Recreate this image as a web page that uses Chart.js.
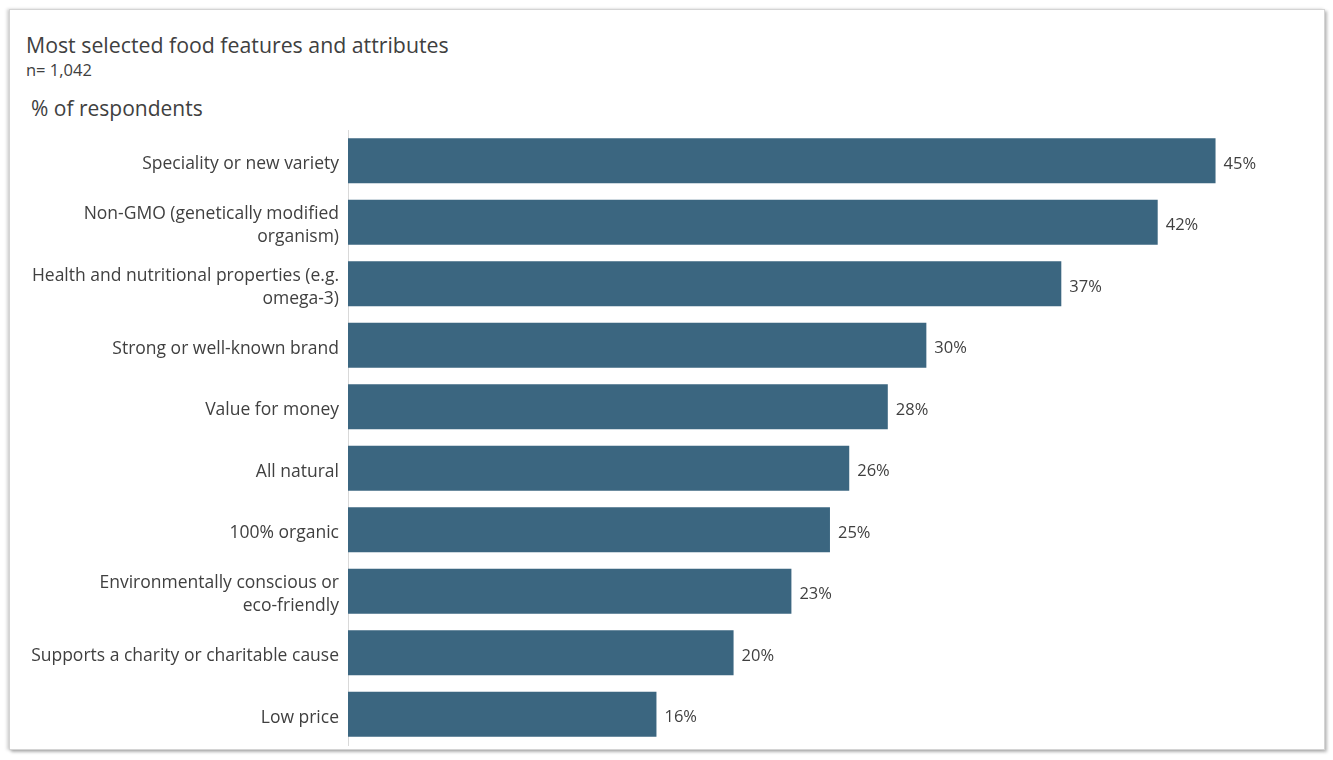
<!DOCTYPE html>
<html>
<head>
<meta charset="utf-8">
<script src="https://cdn.jsdelivr.net/npm/chart.js@4/dist/chart.umd.min.js"></script>
<style>
  html, body { margin: 0; padding: 0; background: #fff; }
  body { width: 1333px; height: 760px; position: relative; overflow: hidden; font-family: 'Open Sans', sans-serif; color: #404040; }
  .panel {
    position: absolute; left: 9px; top: 9px; width: 1314px; height: 739px;
    background: #fff; border: 1px solid #d4d4d4;
    box-shadow: 2px 2px 3px rgba(0,0,0,0.28), -2px 0 3px rgba(0,0,0,0.18);
  }
  .title { position: absolute; left: 26px; top: 31px; font-size: 21.3px; color: #404040; white-space: nowrap; line-height: 1.3; }
  .sub { position: absolute; left: 26px; top: 59px; font-size: 16.5px; color: #404040; line-height: 1.3; }
  .unit { position: absolute; left: 31px; top: 95px; font-size: 21px; color: #404040; line-height: 1.3; }
  #chart { position: absolute; left: 0; top: 0; }
</style>
</head>
<body>
<div class="panel"></div>
<div class="title">Most selected food features and attributes</div>
<div class="sub">n= 1,042</div>
<div class="unit">% of respondents</div>
<canvas id="chart" width="1333" height="760"></canvas>
<script>
// categories, top to bottom
const features = [
  'Speciality or new variety',
  ['Non-GMO (genetically modified', 'organism)'],
  ['Health and nutritional properties (e.g.', 'omega-3)'],
  'Strong or well-known brand',
  'Value for money',
  'All natural',
  '100% organic',
  ['Environmentally conscious or', 'eco-friendly'],
  'Supports a charity or charitable cause',
  'Low price',
];
const sharePct = [45, 42, 37, 30, 28, 26, 25, 23, 20, 16];

const BAR = '#3b6680';
const TXT = '#404040';
const LINE_H = 23;
const TEXT_DROP = 3.5; // text sits a touch below the bar centre

// category names at each tick, right-aligned against the axis,
// plus "NN%" just past the end of each bar
const barText = {
  id: 'barText',
  afterDatasetsDraw(chart) {
    const { ctx } = chart;
    const yScale = chart.scales.y;
    const meta = chart.getDatasetMeta(0);
    ctx.save();
    ctx.fillStyle = TXT;
    ctx.textBaseline = 'middle';

    ctx.font = "17.5px 'Open Sans'";
    ctx.textAlign = 'right';
    features.forEach((lab, i) => {
      const lines = Array.isArray(lab) ? lab : [lab];
      const cy = yScale.getPixelForTick(i) + TEXT_DROP;
      const y0 = cy - (lines.length - 1) * LINE_H / 2;
      lines.forEach((t, k) => ctx.fillText(t, yScale.right - 9, y0 + k * LINE_H));
    });

    ctx.font = "16.5px 'Open Sans'";
    ctx.textAlign = 'left';
    meta.data.forEach((bar, i) => {
      ctx.fillText(sharePct[i] + '%', bar.x + 8, bar.y + TEXT_DROP);
    });
    ctx.restore();
  },
};

new Chart(document.getElementById('chart'), {
  type: 'bar',
  data: {
    labels: features,
    datasets: [{
      data: sharePct,
      backgroundColor: BAR,
      borderWidth: 0,
      barPercentage: 0.73,
      categoryPercentage: 1,
    }],
  },
  options: {
    indexAxis: 'y',
    responsive: false,
    animation: false,
    layout: { padding: { top: 130, bottom: 15, right: 23, left: 0 } },
    plugins: { legend: { display: false }, tooltip: { enabled: false } },
    scales: {
      x: { display: false, min: 0, max: 49.9 },
      y: {
        // fixed label column; drop the half-label padding so the bars fill the plot height
        afterFit: s => { s.width = 348; s.paddingTop = 0; s.paddingBottom = 0; },
        grid: { display: false, drawTicks: false },
        border: { color: '#d9d9d9', width: 1 },
        ticks: { display: false },
      },
    },
  },
  plugins: [barText],
});
</script>
</body>
</html>
